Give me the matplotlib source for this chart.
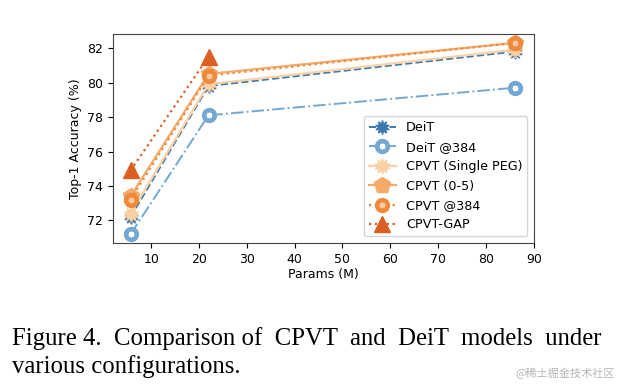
import matplotlib
matplotlib.use("Agg")
import matplotlib.pyplot as plt
from matplotlib.legend_handler import HandlerTuple

params = [5.7, 22, 86]
params_gap = [5.7, 22]
deit = [72.2, 79.8, 81.8]
deit_384 = [71.2, 78.1, 79.7]
cpvt_single = [72.4, 79.9, 81.9]
cpvt_05 = [73.4, 80.5, 82.3]
cpvt_384 = [73.2, 80.4, 82.3]
cpvt_gap = [74.9, 81.5]

fig = plt.figure(figsize=(6.2, 3.88), dpi=100)
ax = fig.add_axes([0.182, 0.374, 0.679, 0.539])

h1, = ax.plot(params, deit, ls='--', color='#3b78ae', marker=(10, 1, 0), ms=10, lw=1.4)
h2a, = ax.plot(params, deit_384, ls='-.', color='#73a8d2', marker='o', ms=10, lw=1.4)
h2b, = ax.plot(params, deit_384, ls='none', color='white', marker=(8, 2, 0), ms=4)
h3, = ax.plot(params, cpvt_single, ls='-', color='#fbd0a4', marker=(10, 1, 0), ms=11, lw=1.6)
h4, = ax.plot(params, cpvt_05, ls='-', color='#f6aa6a', marker='p', ms=12, lw=1.6)
h5a, = ax.plot(params, cpvt_384, ls=':', color='#ee8a3e', marker='o', ms=10, lw=1.6)
h5b, = ax.plot(params, cpvt_384, ls='none', color='#f8c9a0', marker=(8, 2, 0), ms=4)
h6, = ax.plot(params_gap, cpvt_gap, ls=':', color='#d95f22', marker='^', ms=11, lw=1.6)

ax.set_xlim(2, 90)
ax.set_ylim(70.7, 82.83)
ax.set_xticks([10, 20, 30, 40, 50, 60, 70, 80, 90])
ax.set_yticks([72, 74, 76, 78, 80, 82])
ax.tick_params(labelsize=9)
ax.set_xlabel('Params (M)', fontsize=9, labelpad=2)
ax.set_ylabel('Top-1 Accuracy (%)', fontsize=9)
for s in ax.spines.values():
    s.set_color('#444444')

labels = ['DeiT', 'DeiT @384', 'CPVT (Single PEG)', 'CPVT (0-5)', 'CPVT @384', 'CPVT-GAP']
ax.legend([h1, (h2a, h2b), h3, h4, (h5a, h5b), h6], labels,
          handler_map={tuple: HandlerTuple(ndivide=1, pad=0)},
          loc='lower right', fontsize=9.2, handlelength=2.1, borderaxespad=0.5, labelspacing=0.5)

fig.text(0.019, 0.111, 'Figure 4.  Comparison of  CPVT  and  DeiT  models  under',
         family='Liberation Serif', fontsize=17.8, va='baseline')
fig.text(0.019, 0.039, 'various configurations.', family='Liberation Serif', fontsize=17.8, va='baseline')
fig.text(0.992, 0.028, '@稀土掘金技术社区', family=['Noto Sans CJK SC', 'DejaVu Sans'],
         fontsize=8, color='#b5b5b5', ha='right', va='baseline')

fig.savefig('out.png', dpi=100)
